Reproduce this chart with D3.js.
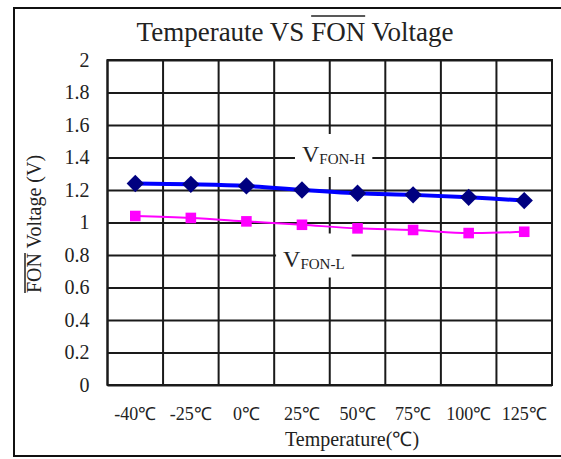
<!DOCTYPE html>
<html>
<head>
<meta charset="utf-8">
<script src="https://cdn.jsdelivr.net/npm/d3@7"></script>
<style>
    html, body { margin: 0; padding: 0; background: #fff; }
    #chart { width: 561px; height: 459px; }
    #chart text { font-family: 'Liberation Serif', 'Times New Roman', serif; }
</style>
</head>
<body>
<div id="chart"></div>
<script>
// chart values
const categories = ["-40℃", "-25℃", "0℃", "25℃", "50℃", "75℃", "100℃", "125℃"];
const fonHigh = [1.24, 1.235, 1.225, 1.20, 1.18, 1.17, 1.155, 1.135];
const fonLow = [1.04, 1.028, 1.007, 0.986, 0.964, 0.954, 0.935, 0.943];
const yTicks = [0, 0.2, 0.4, 0.6, 0.8, 1, 1.2, 1.4, 1.6, 1.8, 2];

const width = 561, height = 459;
const margin = ({ top: 60, right: 9, bottom: 74, left: 107.5 });
const font = "'Liberation Serif', 'Times New Roman', serif";

const svg = d3.select("#chart")
    .append("svg")
    .attr("width", width)
    .attr("height", height)
    .attr("font-family", font);

// outer frame
svg.append("rect")
    .attr("x", 14).attr("y", 8)
    .attr("width", 560).attr("height", 448)
    .attr("fill", "#fff")
    .attr("stroke", "#111")
    .attr("stroke-width", 2);

const xScale = d3.scaleBand()
    .domain(categories)
    .range([margin.left, width - margin.right]);

const yScale = d3.scaleLinear()
    .domain([0, 2])
    .range([height - margin.bottom, margin.top]);

const plotW = width - margin.right - margin.left;

// horizontal grid + y labels
const yAxis = svg.append("g")
    .attr("transform", `translate(${margin.left},0)`)
    .call(d3.axisLeft(yScale)
        .tickValues(yTicks)
        .tickSize(-plotW)
        .tickPadding(18)
        .tickFormat(d => d3.format("")(d)))
    .attr("font-family", font);
yAxis.select(".domain").remove();
yAxis.selectAll("line").attr("stroke", "#1a1a1a").attr("stroke-width", 2);
yAxis.selectAll("text")
    .style("font-size", "20px")
    .attr("fill", "#222");

// vertical grid at category boundaries
svg.append("g")
    .selectAll("line")
    .data(categories)
    .join("line")
    .attr("x1", d => xScale(d))
    .attr("x2", d => xScale(d))
    .attr("y1", yScale(2))
    .attr("y2", yScale(0))
    .attr("stroke", "#1a1a1a")
    .attr("stroke-width", 2);

// plot border
svg.append("rect")
    .attr("x", margin.left)
    .attr("y", margin.top)
    .attr("width", plotW)
    .attr("height", yScale(0) - yScale(2))
    .attr("fill", "none")
    .attr("stroke", "#1a1a1a")
    .attr("stroke-width", 2);

// x labels
const xAxis = svg.append("g")
    .attr("transform", `translate(0,${yScale(0)})`)
    .call(d3.axisBottom(xScale).tickSize(0).tickPadding(22))
    .attr("font-family", font);
xAxis.select(".domain").remove();
xAxis.selectAll("text")
    .style("font-size", "18px")
    .attr("fill", "#222");

// series labels with white boxes behind
const addLabel = (x, y, sub, padX, padTop, padBottom) => {
    const g = svg.append("g");
    const t = g.append("text")
        .attr("x", x)
        .attr("y", y)
        .attr("fill", "#222");
    t.append("tspan").style("font-size", "24px").text("V");
    t.append("tspan").style("font-size", "15px").attr("dy", 2).text(sub);
    const bb = t.node().getBBox();
    g.insert("rect", "text")
        .attr("x", bb.x - padX)
        .attr("y", bb.y - padTop)
        .attr("width", bb.width + 2 * padX)
        .attr("height", bb.height + padTop + padBottom)
        .attr("fill", "#fff");
};
addLabel(xScale("25℃") + xScale.bandwidth() / 2, yScale(1.4) + 4.5, "FON-H", 7, 7, 10);
addLabel(xScale("0℃") + xScale.bandwidth() * 1.16, yScale(0.8) + 11.5, "FON-L", 7, 12, 6);

const xPos = (d, i) => xScale(categories[i]) + xScale.bandwidth() / 2;

const line = d3.line()
    .x(xPos)
    .y(d => yScale(d))
    .curve(d3.curveCatmullRom.alpha(0.5));

// low series
svg.append("path")
    .datum(fonLow)
    .attr("d", line)
    .attr("fill", "none")
    .attr("stroke", "#ff00ff")
    .attr("stroke-width", 2);

svg.append("g")
    .selectAll("path")
    .data(fonLow)
    .join("path")
    .attr("d", d3.symbol(d3.symbolSquare, 112))
    .attr("transform", (d, i) => `translate(${xPos(d, i)},${yScale(d)})`)
    .attr("fill", "#ff00ff");

// high series
svg.append("path")
    .datum(fonHigh)
    .attr("d", line)
    .attr("fill", "none")
    .attr("stroke", "#0000ff")
    .attr("stroke-width", 4);

svg.append("g")
    .selectAll("path")
    .data(fonHigh)
    .join("path")
    .attr("d", d3.symbol(d3.symbolSquare, 150))
    .attr("transform", (d, i) => `translate(${xPos(d, i)},${yScale(d)}) rotate(45)`)
    .attr("fill", "#000080");

// overline helper for a tspan
const overline = (g, tspan, y) => {
    const node = tspan.node();
    const x0 = node.getStartPositionOfChar(0).x;
    const w = node.getComputedTextLength();
    g.append("line")
        .attr("x1", x0).attr("x2", x0 + w)
        .attr("y1", y).attr("y2", y)
        .attr("stroke", "#222")
        .attr("stroke-width", 1.5);
};

// title
const titleG = svg.append("g");
const title = titleG.append("text")
    .attr("x", 295)
    .attr("y", 41)
    .attr("text-anchor", "middle")
    .style("font-size", "27px")
    .attr("fill", "#222");
title.append("tspan").text("Temperaute VS ");
const tFon = title.append("tspan").text("FON");
title.append("tspan").text(" Voltage");
overline(titleG, tFon, 16);

// y title
const yTitleG = svg.append("g")
    .attr("transform", "translate(41,224) rotate(-90)");
const yTitle = yTitleG.append("text")
    .attr("text-anchor", "middle")
    .style("font-size", "20px")
    .attr("fill", "#222");
const yFon = yTitle.append("tspan").text("FON");
yTitle.append("tspan").text(" Voltage (V)");
overline(yTitleG, yFon, -16);

// x title
svg.append("text")
    .attr("x", 352)
    .attr("y", 446)
    .attr("text-anchor", "middle")
    .style("font-size", "20px")
    .attr("fill", "#222")
    .text("Temperature(℃)");
</script>
</body>
</html>
